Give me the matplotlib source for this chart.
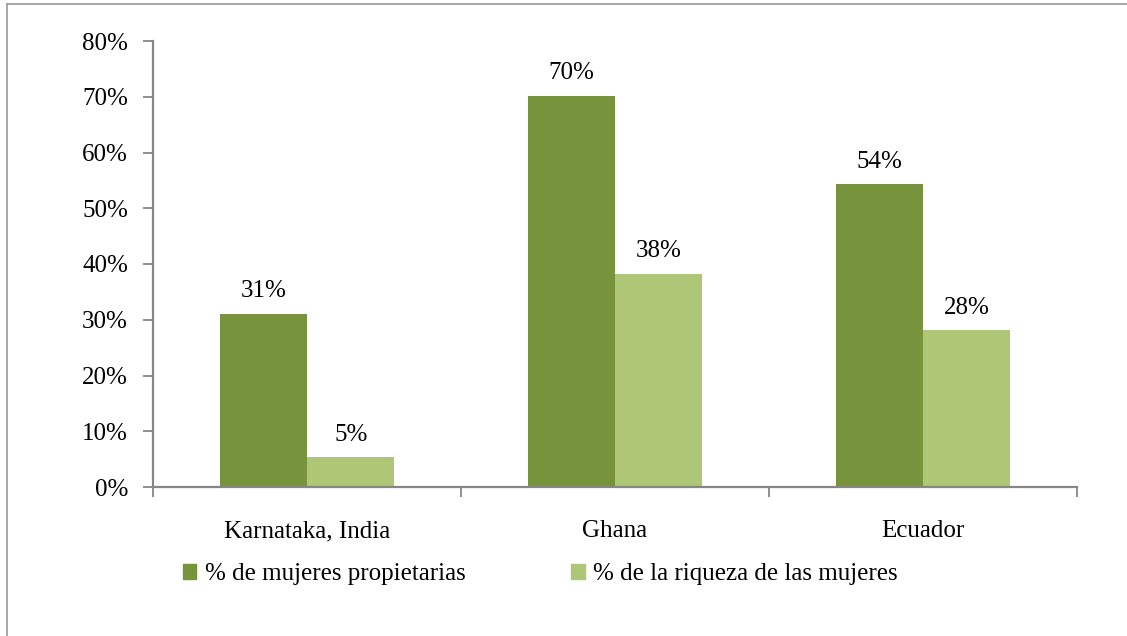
import matplotlib.pyplot as plt
import numpy as np
from matplotlib.lines import Line2D

plt.rcParams['font.family'] = ['Liberation Serif', 'DejaVu Serif']

categories = ['Karnataka, India', 'Ghana', 'Ecuador']
propietarias = [0.31, 0.701, 0.543]
riqueza = [0.053, 0.382, 0.281]
series_names = ['% de mujeres propietarias', '% de la riqueza de las mujeres']
yticks = [0, 0.1, 0.2, 0.3, 0.4, 0.5, 0.6, 0.7, 0.8]

dark = '#77933C'
light = '#ADC777'
axis_col = '#868686'
fs = 18

W, H = 1127, 636
fig = plt.figure(figsize=(W / 100, H / 100), dpi=100)
ax = fig.add_axes([153 / W, 1 - 487 / H, (1077 - 153) / W, (487 - 41) / H])

x = np.arange(len(categories))
bw = 0.284
ax.bar(x - bw / 2, propietarias, bw, color=dark, label=series_names[0])
ax.bar(x + bw / 2, riqueza, bw, color=light, label=series_names[1])

for i in range(len(categories)):
    ax.text(x[i] - bw / 2, propietarias[i] + 0.021, f'{round(propietarias[i] * 100)}%',
            ha='center', va='bottom', fontsize=fs)
    ax.text(x[i] + bw / 2, riqueza[i] + 0.021, f'{round(riqueza[i] * 100)}%',
            ha='center', va='bottom', fontsize=fs)

ax.set_xlim(-0.5, len(categories) - 0.5)
ax.set_ylim(0, 0.8)
ax.set_yticks(yticks)
ax.set_yticklabels([f'{int(round(t * 100))}%' for t in yticks], fontsize=fs)
ax.set_xticks(x)
ax.set_xticklabels(categories, fontsize=fs)
ax.tick_params(axis='x', length=0, pad=24)
ax.set_xticks(np.arange(-0.5, len(categories)), minor=True)
ax.tick_params(axis='x', which='minor', length=7, width=1.3, color=axis_col, direction='out')
ax.tick_params(axis='y', length=7, width=1.3, color=axis_col, direction='out', pad=11)

for s in ['top', 'right']:
    ax.spines[s].set_visible(False)
for s in ['left', 'bottom']:
    ax.spines[s].set_color(axis_col)
    ax.spines[s].set_linewidth(1.6)

handles = [plt.Rectangle((0, 0), 1, 1, color=dark), plt.Rectangle((0, 0), 1, 1, color=light)]
fig.legend(handles, series_names, loc='center left', bbox_to_anchor=(160 / W, 1 - 574 / H),
           ncol=2, frameon=False, fontsize=fs, handlelength=0.55, handleheight=0.55,
           handletextpad=0.35, columnspacing=4.2)

# border of the chart area (left and top edges visible)
fig.add_artist(Line2D([7 / W, 7 / W], [0, 1 - 4 / H], transform=fig.transFigure, color='#A0A0A0', lw=1.3))
fig.add_artist(Line2D([7 / W, 1], [1 - 4 / H, 1 - 4 / H], transform=fig.transFigure, color='#A0A0A0', lw=1.3))

fig.savefig('out.png', dpi=100)
